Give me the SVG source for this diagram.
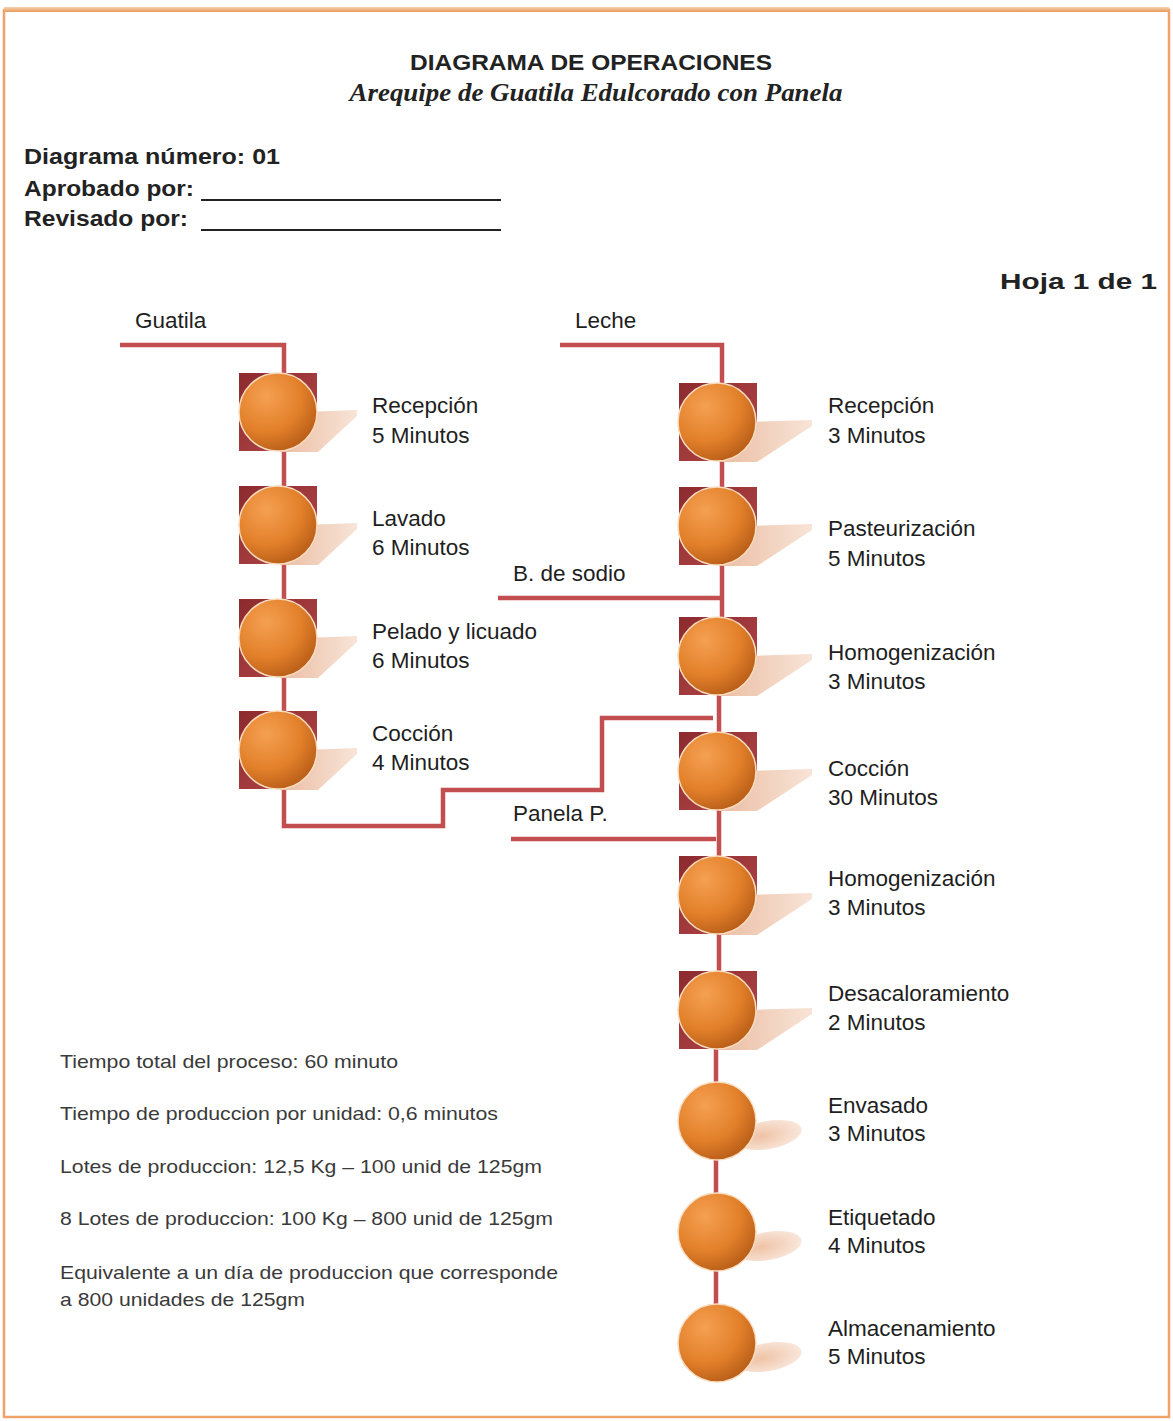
<svg xmlns="http://www.w3.org/2000/svg" width="1173" height="1421" viewBox="0 0 1173 1421">
<defs>
<radialGradient id="ball" cx="35%" cy="30%" r="75%">
<stop offset="0" stop-color="#f5a052"/>
<stop offset="0.6" stop-color="#e2802a"/>
<stop offset="1" stop-color="#b85d18"/>
</radialGradient>
<linearGradient id="sq" x1="0" y1="0" x2="1" y2="1">
<stop offset="0" stop-color="#8c2a2e"/>
<stop offset="1" stop-color="#b5494a"/>
</linearGradient>
<linearGradient id="wedge" x1="0" y1="0" x2="1" y2="0">
<stop offset="0" stop-color="#ebbda3"/>
<stop offset="1" stop-color="#f8e4d7"/>
</linearGradient>
<radialGradient id="blob" cx="40%" cy="50%" r="60%">
<stop offset="0" stop-color="#efc3a6"/>
<stop offset="1" stop-color="#f9e6da"/>
</radialGradient>
<linearGradient id="topb" x1="0" y1="0" x2="0" y2="1">
<stop offset="0" stop-color="#f6d2b0"/>
<stop offset="1" stop-color="#e89a5a"/>
</linearGradient>
</defs>
<style>
.sq{fill:url(#sq)}
.ball{fill:url(#ball);stroke:#f8dcbf;stroke-width:1.5}
.wd{fill:url(#wedge)}
.bl{fill:url(#blob)}
.conn{fill:none;stroke:#c24e4f;stroke-width:4.5;stroke-linejoin:miter}
.lbl{font-family:"Liberation Sans",Arial,sans-serif;font-size:22.5px;fill:#1e1e1e}
.hd{font-family:"Liberation Sans",Arial,sans-serif;font-weight:bold;font-size:22px;fill:#222}
.note{font-family:"Liberation Sans",Arial,sans-serif;font-size:19px;fill:#3a3a3a}
</style>
<rect x="0" y="0" width="1173" height="1421" fill="#ffffff"/>
<rect x="4" y="10" width="1165" height="1407" fill="none" stroke="#efa36a" stroke-width="2.5"/>
<rect x="4" y="7" width="1165" height="5" fill="url(#topb)"/>

<g id="header">
<text x="591" y="70" text-anchor="middle" font-family="Liberation Sans, Arial, sans-serif" font-weight="bold" font-size="22" fill="#222" textLength="362" lengthAdjust="spacingAndGlyphs">DIAGRAMA DE OPERACIONES</text>
<text x="596" y="101" text-anchor="middle" font-family="Liberation Serif, Times New Roman, serif" font-weight="bold" font-style="italic" font-size="26" fill="#222" textLength="493" lengthAdjust="spacingAndGlyphs">Arequipe de Guatila Edulcorado con Panela</text>
<text class="hd" x="24" y="164" textLength="256" lengthAdjust="spacingAndGlyphs">Diagrama número:  01</text>
<text class="hd" x="24" y="196" textLength="170" lengthAdjust="spacingAndGlyphs">Aprobado por:</text>
<line x1="201" y1="200" x2="501" y2="200" stroke="#222" stroke-width="2.2"/>
<text class="hd" x="24" y="226" textLength="164" lengthAdjust="spacingAndGlyphs">Revisado por:</text>
<line x1="201" y1="230" x2="501" y2="230" stroke="#222" stroke-width="2.2"/>
<text class="hd" x="1157" y="289" text-anchor="end" textLength="157" lengthAdjust="spacingAndGlyphs">Hoja 1 de 1</text>
</g>

<g id="connectors">
<path class="conn" d="M120,345 H284 V826 H443 V790 H602 V718 H713"/>
<path class="conn" d="M560,345 H722 V656 M719,656 V1010 M716,1010 V1310"/>
<path class="conn" d="M498,598 H724"/>
<path class="conn" d="M511,839 H716"/>
</g>

<g id="inputs">
<text class="lbl" x="135" y="328">Guatila</text>
<text class="lbl" x="575" y="328">Leche</text>
<text class="lbl" x="513" y="581">B. de sodio</text>
<text class="lbl" x="513" y="821">Panela P.</text>
</g>

<g id="g-recepcion">
<rect class="sq" x="239" y="373" width="78" height="78"/>
<polygon class="wd" points="280,413 357,410 357,416 318,452 280,452"/>
<circle class="ball" cx="278" cy="412" r="39"/>
<text class="lbl" x="372" y="413">Recepción</text>
<text class="lbl" x="372" y="443">5 Minutos</text>
</g>
<g id="g-lavado">
<rect class="sq" x="239" y="486" width="78" height="78"/>
<polygon class="wd" points="280,526 357,523 357,529 318,565 280,565"/>
<circle class="ball" cx="278" cy="525" r="39"/>
<text class="lbl" x="372" y="526">Lavado</text>
<text class="lbl" x="372" y="555">6 Minutos</text>
</g>
<g id="g-pelado">
<rect class="sq" x="239" y="599" width="78" height="78"/>
<polygon class="wd" points="280,639 357,636 357,642 318,678 280,678"/>
<circle class="ball" cx="278" cy="638" r="39"/>
<text class="lbl" x="372" y="639">Pelado y licuado</text>
<text class="lbl" x="372" y="668">6 Minutos</text>
</g>
<g id="g-coccion">
<rect class="sq" x="239" y="711" width="78" height="78"/>
<polygon class="wd" points="280,751 357,748 357,754 318,790 280,790"/>
<circle class="ball" cx="278" cy="750" r="39"/>
<text class="lbl" x="372" y="741">Cocción</text>
<text class="lbl" x="372" y="770">4 Minutos</text>
</g>

<g id="l-recepcion">
<rect class="sq" x="679" y="383" width="78" height="78"/>
<polygon class="wd" points="719,423 812,420 812,426 757,462 719,462"/>
<circle class="ball" cx="717" cy="422" r="39"/>
<text class="lbl" x="828" y="413">Recepción</text>
<text class="lbl" x="828" y="443">3 Minutos</text>
</g>
<g id="l-pasteurizacion">
<rect class="sq" x="679" y="487" width="78" height="78"/>
<polygon class="wd" points="719,527 812,524 812,530 757,566 719,566"/>
<circle class="ball" cx="717" cy="526" r="39"/>
<text class="lbl" x="828" y="536">Pasteurización</text>
<text class="lbl" x="828" y="566">5 Minutos</text>
</g>
<g id="l-homog1">
<rect class="sq" x="679" y="617" width="78" height="78"/>
<polygon class="wd" points="719,657 812,654 812,660 757,696 719,696"/>
<circle class="ball" cx="717" cy="656" r="39"/>
<text class="lbl" x="828" y="660">Homogenización</text>
<text class="lbl" x="828" y="689">3 Minutos</text>
</g>
<g id="l-coccion">
<rect class="sq" x="679" y="732" width="78" height="78"/>
<polygon class="wd" points="719,772 812,769 812,775 757,811 719,811"/>
<circle class="ball" cx="717" cy="771" r="39"/>
<text class="lbl" x="828" y="776">Cocción</text>
<text class="lbl" x="828" y="805">30 Minutos</text>
</g>
<g id="l-homog2">
<rect class="sq" x="679" y="856" width="78" height="78"/>
<polygon class="wd" points="719,896 812,893 812,899 757,935 719,935"/>
<circle class="ball" cx="717" cy="895" r="39"/>
<text class="lbl" x="828" y="886">Homogenización</text>
<text class="lbl" x="828" y="915">3 Minutos</text>
</g>
<g id="l-desacaloramiento">
<rect class="sq" x="679" y="971" width="78" height="78"/>
<polygon class="wd" points="719,1011 812,1008 812,1014 757,1050 719,1050"/>
<circle class="ball" cx="717" cy="1010" r="39"/>
<text class="lbl" x="828" y="1001">Desacaloramiento</text>
<text class="lbl" x="828" y="1030">2 Minutos</text>
</g>
<g id="l-envasado">
<ellipse class="bl" cx="768" cy="1135" rx="34" ry="14" transform="rotate(-10 768 1135)"/>
<circle class="ball" cx="717" cy="1121" r="39"/>
<text class="lbl" x="828" y="1113">Envasado</text>
<text class="lbl" x="828" y="1141">3 Minutos</text>
</g>
<g id="l-etiquetado">
<ellipse class="bl" cx="768" cy="1246" rx="34" ry="14" transform="rotate(-10 768 1246)"/>
<circle class="ball" cx="717" cy="1232" r="39"/>
<text class="lbl" x="828" y="1225">Etiquetado</text>
<text class="lbl" x="828" y="1253">4 Minutos</text>
</g>
<g id="l-almacenamiento">
<ellipse class="bl" cx="768" cy="1357" rx="34" ry="14" transform="rotate(-10 768 1357)"/>
<circle class="ball" cx="717" cy="1343" r="39"/>
<text class="lbl" x="828" y="1336">Almacenamiento</text>
<text class="lbl" x="828" y="1364">5 Minutos</text>
</g>

<g id="notes">
<text class="note" x="60" y="1068" textLength="338" lengthAdjust="spacingAndGlyphs">Tiempo total del proceso: 60 minuto</text>
<text class="note" x="60" y="1120" textLength="438" lengthAdjust="spacingAndGlyphs">Tiempo de produccion por unidad: 0,6 minutos</text>
<text class="note" x="60" y="1173" textLength="482" lengthAdjust="spacingAndGlyphs">Lotes de produccion: 12,5 Kg – 100 unid de 125gm</text>
<text class="note" x="60" y="1225" textLength="493" lengthAdjust="spacingAndGlyphs">8 Lotes de produccion: 100 Kg – 800 unid de 125gm</text>
<text class="note" x="60" y="1279" textLength="498" lengthAdjust="spacingAndGlyphs">Equivalente a un día de produccion que corresponde</text>
<text class="note" x="60" y="1306" textLength="245" lengthAdjust="spacingAndGlyphs">a 800 unidades de 125gm</text>
</g>
</svg>
